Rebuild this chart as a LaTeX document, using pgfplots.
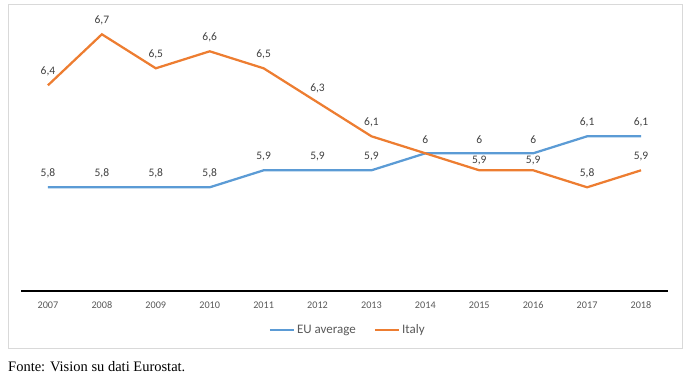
\documentclass[border=0pt]{standalone}
\usepackage{pgfplots}
\pgfplotsset{compat=1.18}
\usepackage{pgfplotstable}
\usepackage{fontspec}
\setmainfont{Liberation Serif}
\newfontfamily\carlito{Carlito}
\definecolor{eublue}{HTML}{5B9BD5}
\definecolor{itorange}{HTML}{ED7D31}
\definecolor{lblgray}{HTML}{404040}
\definecolor{tickgray}{HTML}{595959}
\definecolor{framegray}{HTML}{D9D9D9}
\pgfplotstableread{
x y lab
2007 5.8 5,8
2008 5.8 5,8
2009 5.8 5,8
2010 5.8 5,8
2011 5.9 5,9
2012 5.9 5,9
2013 5.9 5,9
2014 6.0 6
2015 6.0 6
2016 6.0 6
2017 6.1 6,1
2018 6.1 6,1
}\eudata
\pgfplotstableread{
x y lab
2007 6.4 6,4
2008 6.7 6,7
2009 6.5 6,5
2010 6.6 6,6
2011 6.5 6,5
2012 6.3 6,3
2013 6.1 6,1
2014 6.0 {}
2015 5.9 {}
2016 5.9 {}
2017 5.8 5,8
2018 5.9 5,9
}\itdata
\pgfplotstableread{
x y lab
2015 5.9 5,9
2016 5.9 5,9
}\itlow
\begin{document}
\begin{tikzpicture}
\useasboundingbox (0,0) rectangle (687pt,386pt);
\draw[framegray, line width=0.8pt] (8pt,38pt) rectangle (682pt,382pt);
\node[anchor=west, inner sep=0pt, font=\fontsize{14.5}{16}\selectfont] at (8pt,19pt) {Fonte: Vision su dati Eurostat.};
\begin{axis}[
  at={(21pt,95pt)}, anchor=south west,
  scale only axis, width=647pt, height=282.2pt,
  xmin=2006.5, xmax=2018.5, ymin=5.19, ymax=6.85,
  clip=false,
  axis x line=bottom, axis y line=none,
  axis line style={-, black, line width=1.3pt},
  xtick={2007,...,2018}, major tick length=0pt,
  /pgf/number format/assume math mode=true,
  /pgf/number format/1000 sep={},
  xticklabel style={font=\carlito\fontsize{10.2}{12}\selectfont, text=tickgray, yshift=-7pt},
  nodes near coords, point meta=explicit symbolic,
  every node near coord/.append style={font=\carlito\fontsize{11.5}{13}\selectfont, text=lblgray, anchor=south, inner sep=0pt, yshift=8.5pt},
  legend style={draw=none, fill=none, font=\carlito\fontsize{13}{15}\selectfont, text=tickgray,
    at={(0.505,-0.138)}, anchor=center, legend columns=2,
    /tikz/every even column/.append style={column sep=16pt},
    /tikz/every odd column/.append style={inner xsep=0pt}},
  legend image code/.code={\draw[#1, line width=2.25pt] (0pt,0pt) -- (24pt,0pt);},
]
\addplot[eublue, line width=2.25pt, no marks] table[x=x, y=y, meta=lab] {\eudata};
\addlegendentry{EU average}
\addplot[itorange, line width=2.25pt, no marks] table[x=x, y=y, meta=lab] {\itdata};
\addlegendentry{Italy}
\addplot[draw=none, no marks, forget plot,
  every node near coord/.append style={yshift=-3.5pt}] table[x=x, y=y, meta=lab] {\itlow};
\end{axis}
\end{tikzpicture}
\end{document}
